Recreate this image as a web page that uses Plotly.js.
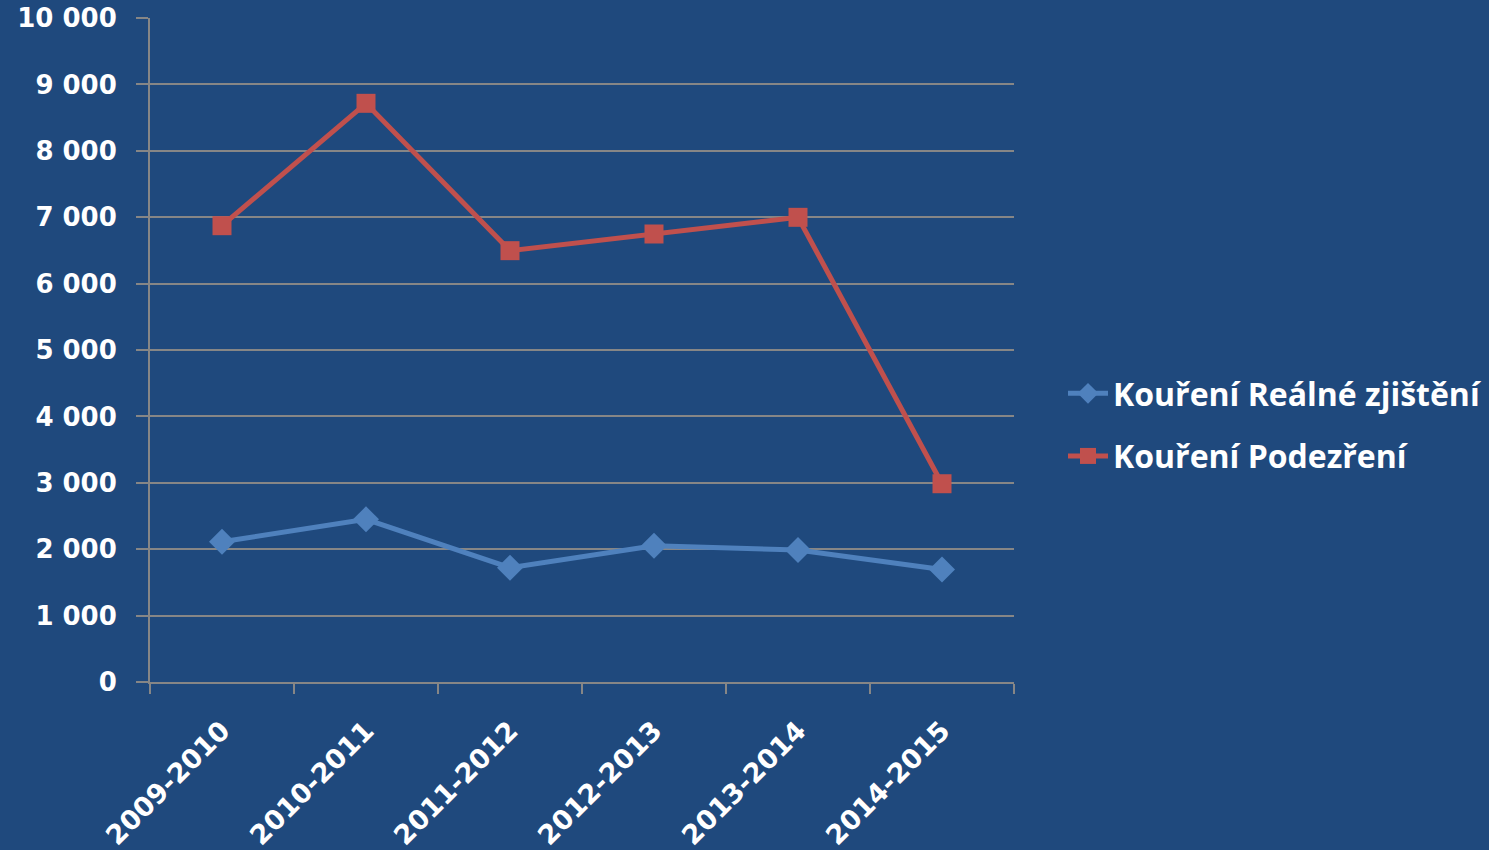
<!DOCTYPE html>
<html>
<head>
<meta charset="utf-8">
<script src="https://cdn.plot.ly/plotly-3.0.1.min.js"></script>
<style>html,body{margin:0;padding:0;background:#1f497d;}#chart{width:1489px;height:850px;}</style>
</head>
<body>
<div id="chart"></div>
<script>
const categories = ["2009-2010", "2010-2011", "2011-2012", "2012-2013", "2013-2014", "2014-2015"];
const realneZjisteni = [2113, 2450, 1721, 2053, 1988, 1693];
const podezreni = [6872, 8715, 6496, 6747, 6998, 2986];
const yTickValues = [0, 1000, 2000, 3000, 4000, 5000, 6000, 7000, 8000, 9000, 10000];

const traces = [
  {
    x: categories, y: realneZjisteni, type: "scatter", mode: "lines+markers",
    name: "Kouření Reálné zjištění", legendgroup: "a",
    line: {color: "#4f81bd", width: 5},
    marker: {symbol: "diamond", size: 20, color: "#4f81bd"}
  },
  {
    x: categories, y: podezreni, type: "scatter", mode: "lines+markers",
    name: "Kouření Podezření", legendgroup: "b",
    line: {color: "#c0504d", width: 5},
    marker: {symbol: "square", size: 19, color: "#c0504d"}
  }
];

const layout = {
  width: 1489, height: 850,
  paper_bgcolor: "#1f497d", plot_bgcolor: "#1f497d",
  margin: {l: 150, r: 475, t: 18, b: 168, autoexpand: false},
  separators: ", ",
  font: {family: "DejaVu Sans", color: "#ffffff"},
  showlegend: true,
  legend: {
    x: 1 + 49 / 864, xanchor: "left", y: 0.387, yanchor: "middle",
    traceorder: "grouped", tracegroupgap: 18, itemwidth: 40,
    font: {family: "Open Sans", size: 32, color: "#ffffff", weight: "bold"},
    bgcolor: "rgba(0,0,0,0)"
  },
  xaxis: {
    type: "category", range: [-0.5, 5.5],
    tickson: "boundaries", ticks: "outside", ticklen: 10, tickcolor: "#868686", tickwidth: 2,
    showline: true, linecolor: "#868686", linewidth: 2,
    showgrid: false, zeroline: false,
    tickangle: -45, ticklabelstandoff: 20,
    tickfont: {family: "DejaVu Sans", size: 27, color: "#ffffff", weight: "bold"}
  },
  yaxis: {
    range: [0, 10000], tickvals: yTickValues, tickformat: ",d",
    ticks: "outside", ticklen: 12, tickcolor: "#868686", tickwidth: 2,
    ticklabelstandoff: 14,
    showline: true, linecolor: "#868686", linewidth: 2,
    showgrid: true, gridcolor: "#868686", gridwidth: 2,
    zeroline: false,
    tickfont: {family: "DejaVu Sans", size: 26, color: "#ffffff", weight: "bold"}
  }
};

Plotly.newPlot("chart", traces, layout, {displayModeBar: false, staticPlot: true});
</script>
</body>
</html>
